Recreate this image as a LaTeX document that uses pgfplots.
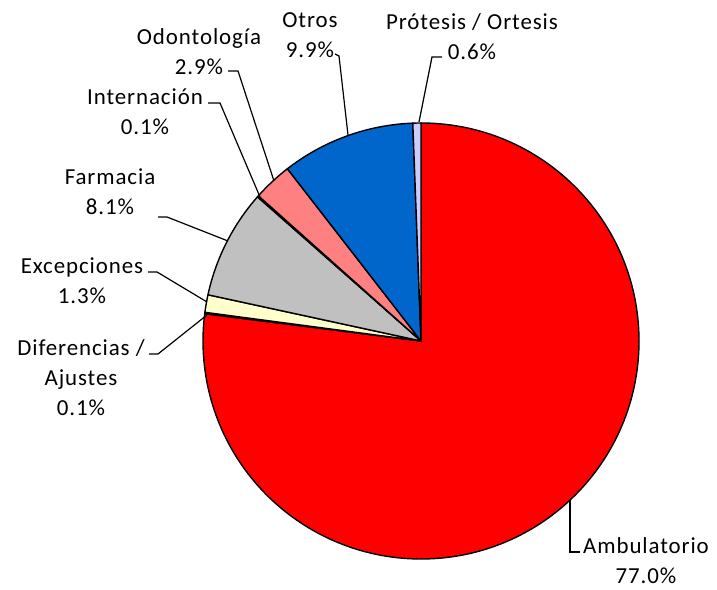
\documentclass[border=0pt]{standalone}
\usepackage{pgfplots}
\pgfplotsset{compat=1.18}
\usepackage{pgfplotstable}
\usepackage{fontspec}
\setmainfont{Carlito}[LetterSpace=4]
\definecolor{c0}{HTML}{FF0000}
\definecolor{c1}{HTML}{993366}
\definecolor{c2}{HTML}{FFFFCC}
\definecolor{c3}{HTML}{C0C0C0}
\definecolor{c4}{HTML}{339966}
\definecolor{c5}{HTML}{FF8080}
\definecolor{c6}{HTML}{0066CC}
\definecolor{c7}{HTML}{CCCCFF}
\pgfplotstableread{
value
77.0
0.1
1.3
8.1
0.1
2.9
9.9
0.6
}\piedata
\gdef\cumval{0}%
\foreach \i in {0,...,7}{%
  \pgfplotstablegetelem{\i}{value}\of\piedata
  \let\vv\pgfplotsretval
  \pgfmathsetmacro\sa{90-3.6*\cumval}%
  \pgfmathsetmacro\newcum{\cumval+\vv}%
  \pgfmathsetmacro\ea{90-3.6*\newcum}%
  \expandafter\xdef\csname sa\i\endcsname{\sa}%
  \expandafter\xdef\csname ea\i\endcsname{\ea}%
  \xdef\cumval{\newcum}%
}%
\begin{document}
\begin{tikzpicture}
\begin{axis}[width=717bp, height=590bp, scale only axis,
  xmin=0, xmax=717, ymin=0, ymax=590, hide axis, clip=false]
\path (axis cs:0,0) rectangle (axis cs:717,590);
\pgfplotsinvokeforeach{0,...,7}{
  \filldraw[fill=c#1, draw=black, line width=1.4bp, line join=round]
    (axis cs:421,249) -- ([shift={(\csname sa#1\endcsname:218bp)}]axis cs:421,249)
    arc[start angle=\csname sa#1\endcsname, end angle=\csname ea#1\endcsname, radius=218bp] -- cycle;
}
% leader lines
\begin{scope}[line width=1.2bp, black]
\draw (axis cs:570,90) -- (axis cs:570,38) -- (axis cs:580,38);
\draw (axis cs:149,236) -- (axis cs:158,236) -- (axis cs:207,275);
\draw (axis cs:148,318) -- (axis cs:157,318) -- (axis cs:207,288);
\draw (axis cs:158,373) -- (axis cs:167,373) -- (axis cs:228,349);
\draw (axis cs:208,487) -- (axis cs:220,487) -- (axis cs:260,393);
\draw (axis cs:228,519) -- (axis cs:238,519) -- (axis cs:274,409);
\draw (axis cs:335,536) -- (axis cs:339,534) -- (axis cs:348,455);
\draw (axis cs:442,533) -- (axis cs:432,533) -- (axis cs:419,468);
\end{scope}
\tikzset{lab/.style={align=center, inner sep=0pt, font=\fontsize{23}{30}\selectfont}}
\node[lab] at (axis cs:646,29.5) {Ambulatorio\\77.0\%};
\node[lab] at (axis cs:81,212) {Diferencias /\\Ajustes\\0.1\%};
\node[lab] at (axis cs:82,309) {Excepciones\\1.3\%};
\node[lab] at (axis cs:110,398) {Farmacia\\8.1\%};
\node[lab] at (axis cs:145,478) {Internación\\0.1\%};
\node[lab] at (axis cs:199,538) {Odontología\\2.9\%};
\node[lab] at (axis cs:310,555) {Otros\\9.9\%};
\node[lab] at (axis cs:472,553) {Prótesis / Ortesis\\\hspace*{0pt}0.6\%};
\end{axis}
\end{tikzpicture}
\end{document}
